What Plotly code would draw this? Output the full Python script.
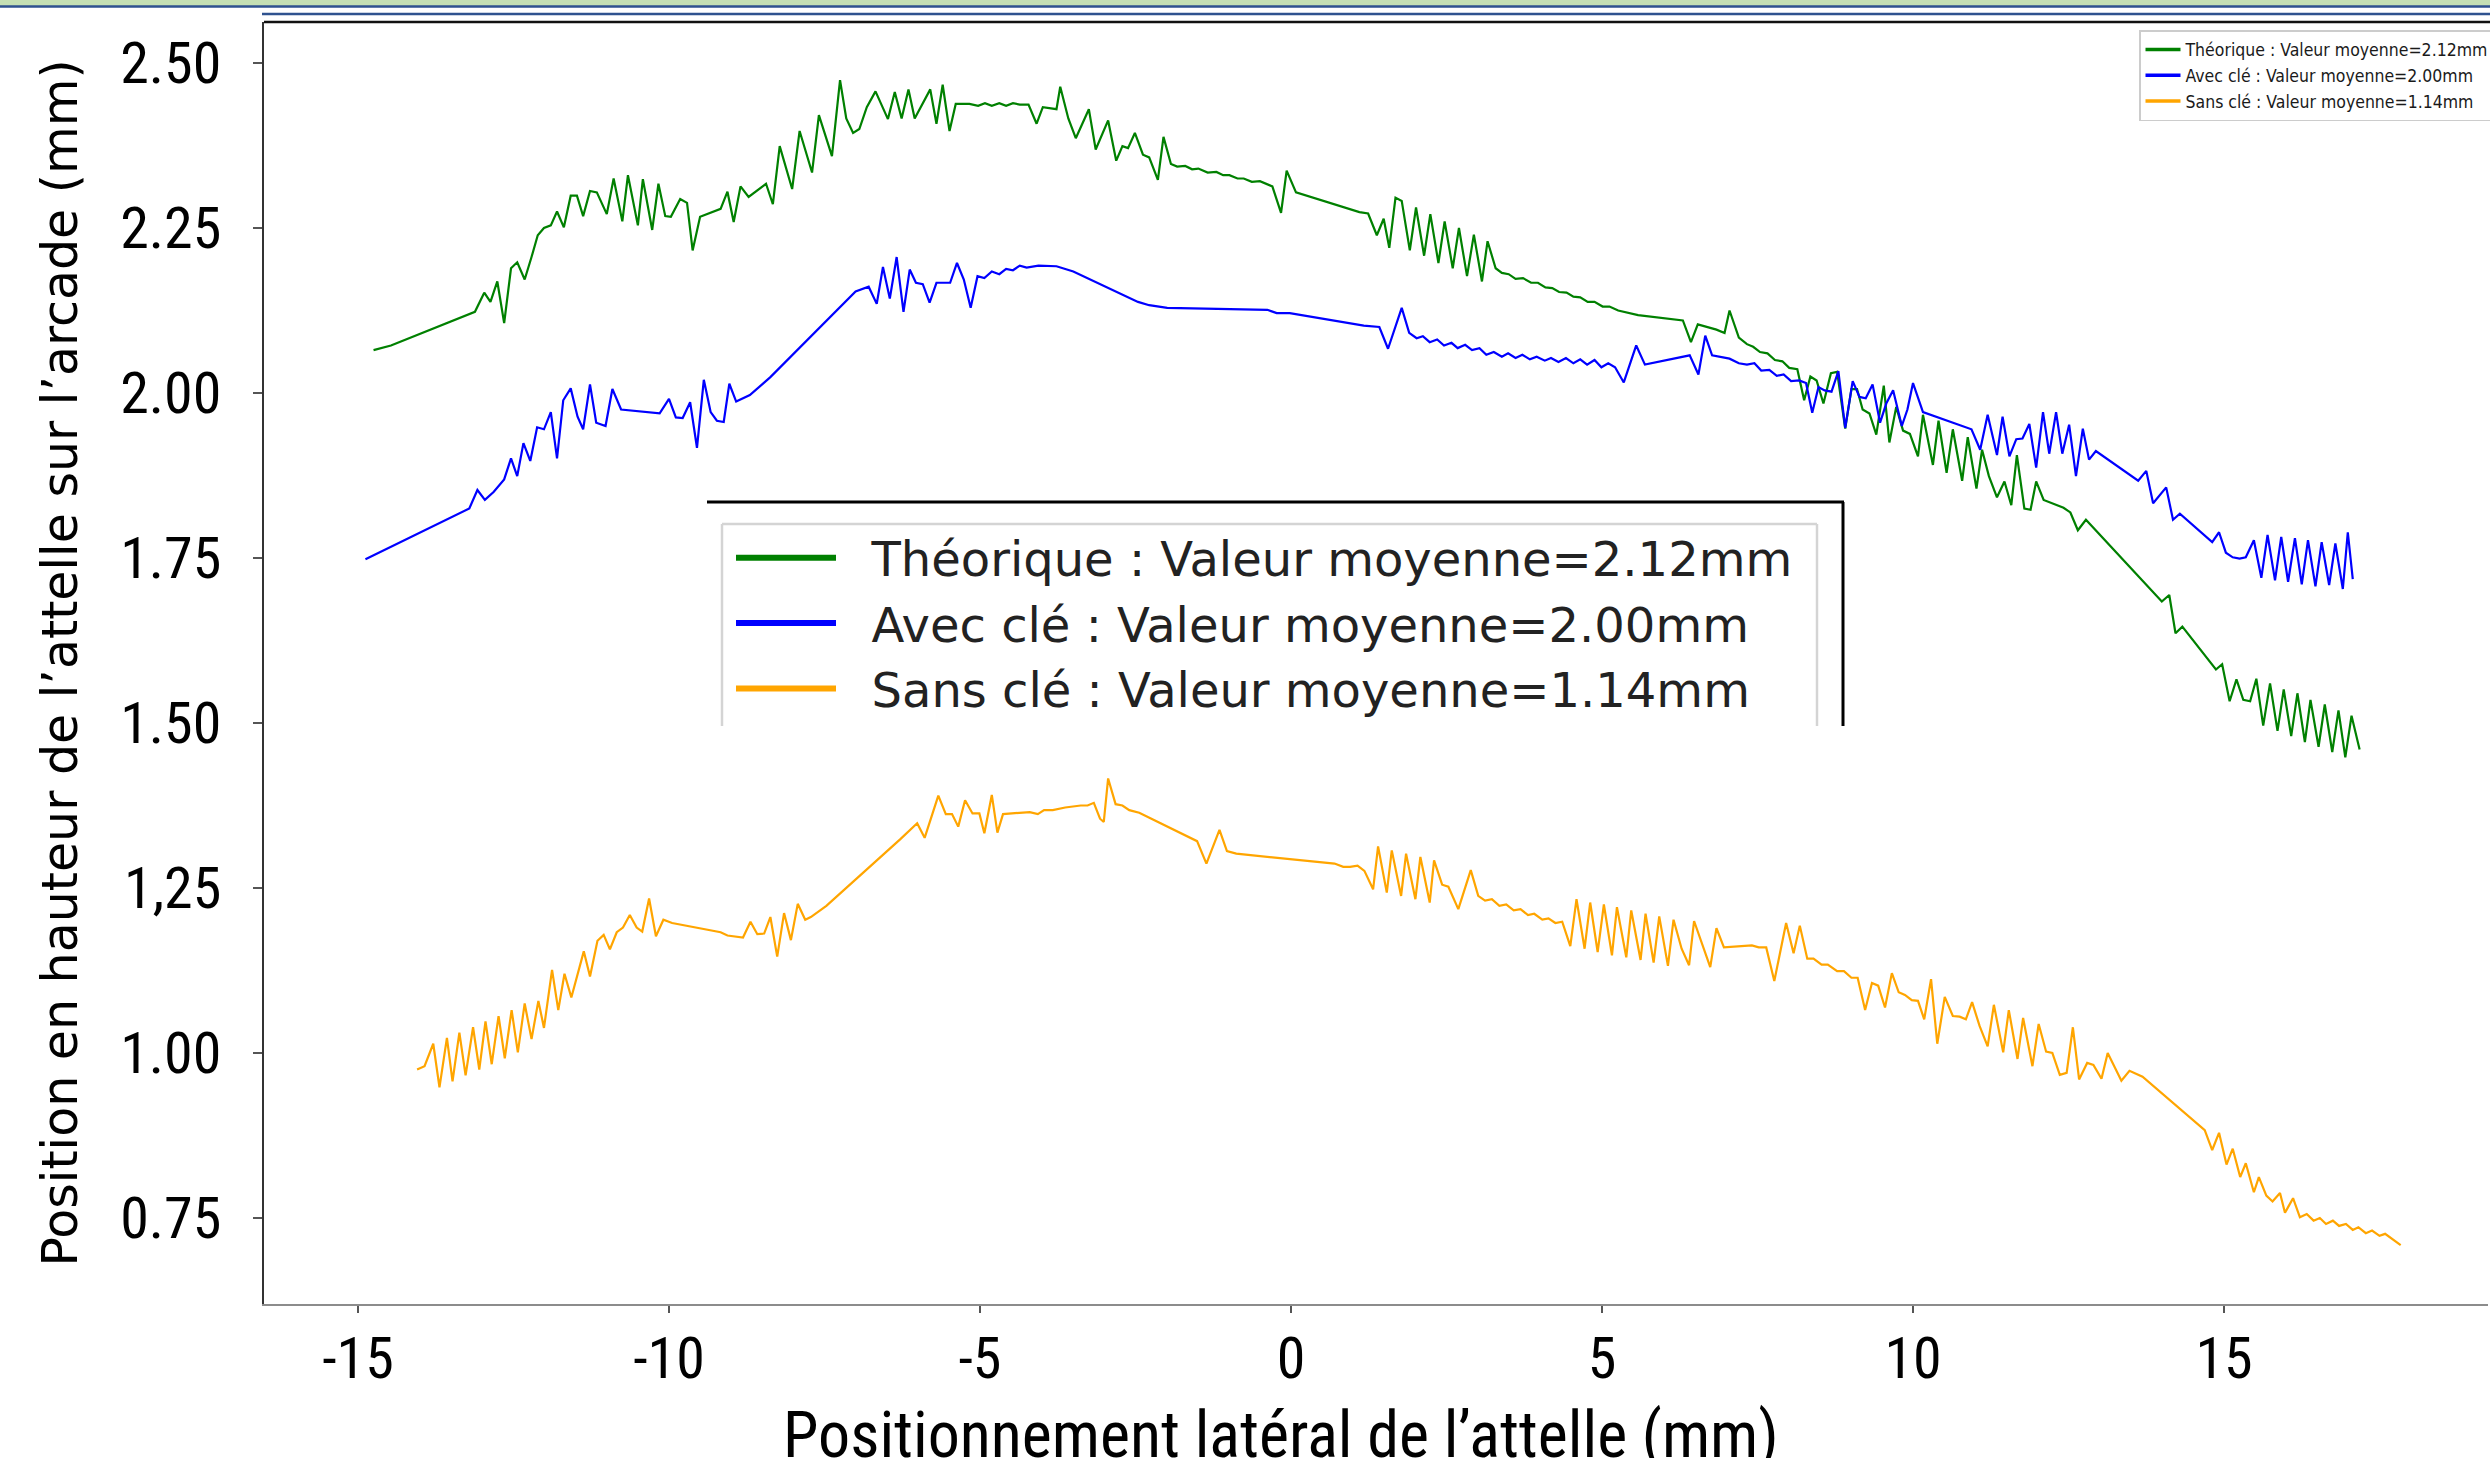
import plotly.graph_objects as go

# ---------------- data ----------------
x_theorique = [-14.75, -14.47, -13.12, -12.97, -12.87, -12.76, -12.65, -12.54, -12.44, -12.32, -12.21, -12.11,
               -12.01, -11.90, -11.80, -11.69, -11.58, -11.48, -11.38, -11.27, -11.16, -11.00, -10.89, -10.75,
               -10.66, -10.50, -10.42, -10.27, -10.17, -10.06, -9.97, -9.82, -9.71, -9.62, -9.50, -9.17, -9.06,
               -8.96, -8.85, -8.72, -8.44, -8.33, -8.22, -8.02, -7.90, -7.70, -7.59, -7.38, -7.25, -7.15, -7.04,
               -6.94, -6.82, -6.68, -6.48, -6.37, -6.26, -6.15, -6.05, -5.80, -5.70, -5.60, -5.49, -5.39, -5.17,
               -5.03, -4.92, -4.81, -4.69, -4.58, -4.47, -4.36, -4.22, -4.09, -3.99, -3.77, -3.71, -3.58, -3.46,
               -3.25, -3.14, -2.94, -2.81, -2.71, -2.62, -2.51, -2.38, -2.28, -2.14, -2.05, -1.93, -1.83, -1.70,
               -1.59, -1.49, -1.34, -1.20, -1.09, -0.99, -0.86, -0.76, -0.63, -0.50, -0.30, -0.16, -0.07, 0.08,
               1.10, 1.24, 1.38, 1.49, 1.58, 1.68, 1.78, 1.91, 2.01, 2.14, 2.24, 2.37, 2.47, 2.60, 2.70, 2.83,
               2.94, 3.07, 3.16, 3.29, 3.39, 3.50, 3.61, 3.73, 3.86, 3.97, 4.09, 4.20, 4.31, 4.43, 4.54, 4.65,
               4.77, 4.88, 5.01, 5.12, 5.26, 5.58, 6.30, 6.43, 6.54, 6.84, 6.97, 7.05, 7.20, 7.33, 7.43, 7.54,
               7.66, 7.78, 7.90, 8.01, 8.14, 8.25, 8.35, 8.45, 8.56, 8.68, 8.78, 8.91, 9.01, 9.10, 9.19, 9.30,
               9.41, 9.53, 9.62, 9.73, 9.84, 9.95, 10.08, 10.16, 10.32, 10.41, 10.54, 10.64, 10.79, 10.88, 11.02,
               11.11, 11.22, 11.35, 11.47, 11.58, 11.67, 11.79, 11.89, 11.98, 12.10, 12.42, 12.53, 12.65, 12.78,
               14.00, 14.12, 14.22, 14.33, 14.87, 14.97, 15.09, 15.20, 15.31, 15.42, 15.52, 15.63, 15.74, 15.86,
               15.96, 16.08, 16.18, 16.30, 16.39, 16.52, 16.62, 16.74, 16.84, 16.95, 17.05, 17.18]
y_theorique = [2.065, 2.072, 2.123, 2.152, 2.138, 2.169, 2.106, 2.189, 2.198, 2.172, 2.206, 2.239,
               2.250, 2.254, 2.275, 2.251, 2.299, 2.299, 2.268, 2.306, 2.304, 2.271, 2.325, 2.260,
               2.330, 2.254, 2.324, 2.247, 2.317, 2.268, 2.267, 2.294, 2.288, 2.216, 2.267, 2.279, 2.305,
               2.259, 2.313, 2.297, 2.317, 2.286, 2.374, 2.309, 2.397, 2.334, 2.421, 2.359, 2.474, 2.416, 2.394,
               2.400, 2.433, 2.457, 2.415, 2.456, 2.416, 2.460, 2.416, 2.460, 2.408, 2.467, 2.397, 2.438, 2.438,
               2.435, 2.439, 2.435, 2.439, 2.435, 2.439, 2.437, 2.437, 2.408, 2.433, 2.430, 2.464, 2.416, 2.386,
               2.430, 2.369, 2.413, 2.352, 2.374, 2.371, 2.394, 2.361, 2.357, 2.323, 2.388, 2.347, 2.343, 2.344,
               2.339, 2.340, 2.334, 2.335, 2.330, 2.330, 2.325, 2.325, 2.320, 2.321, 2.313, 2.273, 2.337, 2.304,
               2.274, 2.272, 2.239, 2.264, 2.220, 2.296, 2.291, 2.216, 2.281, 2.208, 2.271, 2.197, 2.260, 2.189,
               2.250, 2.177, 2.240, 2.169, 2.230, 2.189, 2.182, 2.180, 2.173, 2.174, 2.167, 2.167, 2.160, 2.159,
               2.153, 2.152, 2.146, 2.145, 2.138, 2.138, 2.131, 2.131, 2.125, 2.118, 2.110, 2.077, 2.104, 2.096,
               2.091, 2.125, 2.084, 2.074, 2.070, 2.062, 2.060, 2.050, 2.048, 2.038, 2.036, 1.989, 2.025, 2.019,
               1.984, 2.030, 2.032, 1.946, 2.006, 2.006, 1.975, 1.969, 1.937, 2.011, 1.925, 1.979, 1.943, 1.938,
               1.904, 1.967, 1.891, 1.958, 1.879, 1.945, 1.867, 1.933, 1.855, 1.914, 1.874, 1.842, 1.866, 1.830,
               1.906, 1.825, 1.823, 1.866, 1.838, 1.826, 1.819, 1.792, 1.808, 1.684, 1.694, 1.636, 1.646, 1.581,
               1.589, 1.533, 1.566, 1.535, 1.533, 1.567, 1.496, 1.560, 1.488, 1.551, 1.480, 1.545, 1.471, 1.535,
               1.464, 1.528, 1.456, 1.519, 1.448, 1.511, 1.460]

x_avec = [-14.88, -13.21, -13.08, -12.96, -12.82, -12.65, -12.54, -12.44, -12.34, -12.23, -12.12, -12.01,
          -11.90, -11.80, -11.70, -11.58, -11.47, -11.38, -11.27, -11.17, -11.02, -10.91, -10.77, -10.15,
          -10.00, -9.89, -9.78, -9.66, -9.55, -9.44, -9.33, -9.23, -9.12, -9.03, -8.92, -8.70, -8.37, -7.18,
          -7.00, -6.79, -6.66, -6.56, -6.45, -6.34, -6.23, -6.13, -6.03, -5.92, -5.81, -5.70, -5.48, -5.37,
          -5.26, -5.15, -5.04, -4.93, -4.81, -4.69, -4.58, -4.47, -4.36, -4.25, -4.06, -3.77, -3.50, -2.46,
          -2.28, -1.99, -0.38, -0.23, -0.02, 1.17, 1.42, 1.56, 1.78, 1.90, 2.02, 2.12, 2.23, 2.35, 2.46,
          2.58, 2.68, 2.80, 2.91, 3.03, 3.14, 3.26, 3.39, 3.49, 3.61, 3.72, 3.84, 3.95, 4.08, 4.18, 4.30,
          4.42, 4.54, 4.65, 4.76, 4.88, 4.99, 5.10, 5.21, 5.35, 5.55, 5.69, 6.41, 6.55, 6.66, 6.77, 7.05,
          7.20, 7.33, 7.45, 7.56, 7.69, 7.81, 7.92, 8.04, 8.17, 8.28, 8.38, 8.48, 8.58, 8.69, 8.80, 8.91,
          9.03, 9.14, 9.24, 9.35, 9.47, 9.57, 9.68, 9.82, 9.91, 10.00, 10.16, 10.94, 11.08, 11.20, 11.35,
          11.44, 11.55, 11.66, 11.76, 11.87, 11.98, 12.09, 12.19, 12.30, 12.40, 12.51, 12.62, 12.73, 12.83,
          12.94, 13.62, 13.75, 13.86, 14.07, 14.18, 14.29, 14.81, 14.92, 15.03, 15.14, 15.25, 15.35, 15.48,
          15.60, 15.70, 15.82, 15.92, 16.03, 16.14, 16.25, 16.35, 16.47, 16.57, 16.69, 16.79, 16.91, 16.99,
          17.07]
y_avec = [1.748, 1.825, 1.853, 1.838, 1.850, 1.869, 1.901, 1.874, 1.924, 1.897, 1.948, 1.945,
          1.971, 1.901, 1.989, 2.007, 1.964, 1.945, 2.013, 1.955, 1.950, 2.006, 1.975, 1.969,
          1.991, 1.963, 1.962, 1.986, 1.917, 2.020, 1.971, 1.958, 1.956, 2.014, 1.987, 1.997, 2.024, 2.138,
          2.154, 2.161, 2.135, 2.191, 2.143, 2.206, 2.123, 2.187, 2.167, 2.165, 2.137, 2.167, 2.167, 2.197,
          2.172, 2.129, 2.177, 2.174, 2.184, 2.180, 2.188, 2.186, 2.193, 2.190, 2.193, 2.192, 2.184, 2.138,
          2.133, 2.129, 2.126, 2.121, 2.121, 2.102, 2.100, 2.067, 2.129, 2.091, 2.083, 2.086, 2.077, 2.081, 2.072,
          2.076, 2.068, 2.073, 2.065, 2.068, 2.058, 2.062, 2.055, 2.060, 2.053, 2.058, 2.051, 2.055, 2.049, 2.053, 2.047,
          2.053, 2.045, 2.051, 2.043, 2.050, 2.039, 2.045, 2.039, 2.016, 2.072, 2.043, 2.057, 2.028, 2.087, 2.057, 2.052,
          2.045, 2.043, 2.045, 2.034, 2.035, 2.026, 2.028, 2.018, 2.019, 2.015, 1.970, 2.009, 2.004, 2.002, 2.033, 1.947,
          2.018, 1.994, 1.992, 2.013, 1.955, 1.984, 2.004, 1.950, 1.975, 2.015, 1.971, 1.945, 1.914, 1.967, 1.906,
          1.964, 1.904, 1.930, 1.931, 1.953, 1.887, 1.971, 1.908, 1.971, 1.908, 1.952, 1.874, 1.946, 1.899,
          1.912, 1.867, 1.882, 1.833, 1.857, 1.808, 1.817, 1.774, 1.789, 1.758, 1.751, 1.749, 1.751, 1.777,
          1.720, 1.785, 1.716, 1.782, 1.714, 1.780, 1.710, 1.777, 1.707, 1.774, 1.709, 1.772, 1.703, 1.789,
          1.718]

x_sans = [-14.05, -13.93, -13.79, -13.69, -13.57, -13.48, -13.37, -13.27, -13.15, -13.05, -12.95, -12.85,
          -12.74, -12.64, -12.53, -12.43, -12.32, -12.21, -12.10, -12.01, -11.88, -11.78, -11.68, -11.57,
          -11.37, -11.27, -11.15, -11.05, -10.95, -10.84, -10.74, -10.63, -10.52, -10.43, -10.32, -10.21,
          -10.09, -9.95, -9.17, -9.06, -8.81, -8.69, -8.58, -8.47, -8.37, -8.26, -8.15, -8.04, -7.93, -7.81,
          -7.72, -7.47, -6.28, -6.01, -5.89, -5.67, -5.55, -5.45, -5.35, -5.24, -5.12, -5.01, -4.93, -4.81,
          -4.72, -4.63, -4.20, -4.07, -3.97, -3.83, -3.63, -3.38, -3.27, -3.17, -3.07, -3.01, -2.94, -2.82,
          -2.71, -2.60, -2.44, -1.51, -1.36, -1.28, -1.15, -1.03, -0.88, 0.70, 0.84, 0.95, 1.07, 1.18, 1.32,
          1.40, 1.54, 1.62, 1.77, 1.85, 2.00, 2.08, 2.23, 2.30, 2.43, 2.53, 2.69, 2.89, 3.01, 3.12, 3.23,
          3.35, 3.46, 3.58, 3.69, 3.81, 3.91, 4.04, 4.14, 4.25, 4.36, 4.49, 4.59, 4.72, 4.81, 4.93, 5.03,
          5.16, 5.24, 5.39, 5.47, 5.62, 5.70, 5.83, 5.92, 6.06, 6.15, 6.28, 6.40, 6.48, 6.62, 6.74, 6.84,
          6.96, 7.41, 7.52, 7.64, 7.77, 7.96, 8.08, 8.18, 8.30, 8.40, 8.53, 8.63, 8.78, 8.89, 9.01, 9.11,
          9.23, 9.34, 9.44, 9.55, 9.66, 9.77, 9.87, 9.98, 10.08, 10.18, 10.29, 10.39, 10.51, 10.64, 10.75,
          10.85, 10.95, 11.07, 11.20, 11.30, 11.45, 11.54, 11.68, 11.77, 11.92, 12.02, 12.14, 12.24, 12.36,
          12.47, 12.57, 12.67, 12.80, 12.90, 13.03, 13.13, 13.24, 13.35, 13.48, 13.69, 14.69, 14.81, 14.92,
          15.04, 15.14, 15.26, 15.35, 15.48, 15.56, 15.68, 15.78, 15.90, 15.98, 16.11, 16.22, 16.33, 16.44,
          16.54, 16.64, 16.75, 16.85, 16.96, 17.07, 17.16, 17.28, 17.38, 17.50, 17.59, 17.84]
y_sans = [0.975, 0.980, 1.014, 0.948, 1.023, 0.957, 1.031, 0.966, 1.039, 0.975, 1.048, 0.983,
          1.056, 0.992, 1.065, 1.001, 1.075, 1.021, 1.079, 1.038, 1.126, 1.065, 1.120, 1.084,
          1.154, 1.116, 1.170, 1.179, 1.157, 1.183, 1.190, 1.209, 1.190, 1.184, 1.234, 1.177,
          1.202, 1.197, 1.183, 1.178, 1.175, 1.199, 1.180, 1.181, 1.206, 1.146, 1.212, 1.171, 1.226, 1.202,
          1.206, 1.223, 1.324, 1.348, 1.326, 1.390, 1.362, 1.362, 1.343, 1.383, 1.363, 1.363, 1.333, 1.391,
          1.334, 1.362, 1.365, 1.362, 1.368, 1.368, 1.372, 1.375, 1.375, 1.379, 1.355, 1.350, 1.416, 1.377,
          1.375, 1.368, 1.364, 1.321, 1.287, 1.307, 1.338, 1.306, 1.302, 1.287, 1.282, 1.282, 1.284, 1.276, 1.248,
          1.313, 1.243, 1.307, 1.238, 1.302, 1.233, 1.297, 1.228, 1.292, 1.255, 1.252, 1.218, 1.277, 1.238, 1.231, 1.233,
          1.223, 1.225, 1.216, 1.218, 1.209, 1.211, 1.202, 1.204, 1.197, 1.199, 1.162, 1.233, 1.158, 1.228, 1.153, 1.225,
          1.148, 1.221, 1.145, 1.216, 1.141, 1.211, 1.137, 1.207, 1.132, 1.202, 1.158, 1.133, 1.200, 1.162, 1.130, 1.189,
          1.160, 1.163, 1.160, 1.160, 1.109, 1.197, 1.151, 1.193, 1.143, 1.143, 1.134, 1.134, 1.124, 1.124, 1.114, 1.114,
          1.065, 1.106, 1.102, 1.069, 1.121, 1.092, 1.088, 1.080, 1.079, 1.051, 1.112, 1.014, 1.085, 1.056, 1.055,
          1.051, 1.077, 1.041, 1.010, 1.073, 1.001, 1.065, 0.991, 1.053, 0.980, 1.044, 1.002, 1.000, 0.967,
          0.970, 1.039, 0.960, 0.985, 0.982, 0.961, 1.000, 0.978, 0.958, 0.973, 0.964, 0.883, 0.853, 0.879,
          0.831, 0.855, 0.812, 0.833, 0.789, 0.812, 0.784, 0.775, 0.788, 0.758, 0.780, 0.751, 0.756, 0.746,
          0.750, 0.741, 0.746, 0.738, 0.741, 0.732, 0.736, 0.727, 0.731, 0.723, 0.726, 0.709]

series_names = ["Théorique : Valeur moyenne=2.12mm",
                "Avec clé : Valeur moyenne=2.00mm",
                "Sans clé : Valeur moyenne=1.14mm"]
series_colors = ["#008000", "#0000ff", "#ffa500"]

x_tickvals = [-15, -10, -5, 0, 5, 10, 15]
x_ticktext = ["-15", "-10", "-5", "0", "5", "10", "15"]
y_tickvals = [0.75, 1.00, 1.25, 1.50, 1.75, 2.00, 2.25, 2.50]
y_ticktext = ["0.75", "1.00", "1,25", "1.50", "1.75", "2.00", "2.25", "2.50"]

x_title = "Positionnement latéral de l’attelle (mm)"
y_title = "Position en hauteur de l’attelle sur l’arcade (mm)"

# ---------------- figure ----------------
W, H = 2490, 1458
L, R, T, B = 264, 2488, 22, 1304


def px(xp):
    return (xp - L) / (R - L)


def py(yp):
    return (B - yp) / (B - T)


NARROW = "Liberation Sans Narrow, Arial Narrow, Roboto Condensed, sans-serif"
NB = "\u00a0\u00a0"

fig = go.Figure()

for xs, ys, c in zip([x_theorique, x_avec, x_sans], [y_theorique, y_avec, y_sans], series_colors):
    fig.add_trace(go.Scatter(x=xs, y=ys, mode="lines", line=dict(color=c, width=2.2),
                             showlegend=False, hoverinfo="skip"))

# legend entries (small legend top-right, big legend in the middle)
for n, c in zip(series_names, series_colors):
    fig.add_trace(go.Scatter(x=[None], y=[None], mode="lines", name=n,
                             line=dict(color=c, width=3.5), legend="legend"))
for n, c in zip(series_names, series_colors):
    fig.add_trace(go.Scatter(x=[None], y=[None], mode="lines", name=NB + n,
                             line=dict(color=c, width=6), legend="legend2"))

shapes = []
# top decoration bands
shapes.append(dict(type="rect", xref="paper", yref="paper", x0=px(0), x1=px(W), y0=py(6), y1=py(0),
                   fillcolor="#c5e0b4", line=dict(width=0), layer="above"))
shapes.append(dict(type="line", xref="paper", yref="paper", x0=px(0), x1=px(W), y0=py(6.5), y1=py(6.5),
                   line=dict(color="#2f528f", width=2.5), layer="above"))
shapes.append(dict(type="line", xref="paper", yref="paper", x0=px(262), x1=px(W), y0=py(14), y1=py(14),
                   line=dict(color="#2f528f", width=2.5), layer="above"))
shapes.append(dict(type="line", xref="paper", yref="paper", x0=0, x1=px(W), y0=1, y1=1,
                   line=dict(color="#111111", width=2.5), layer="above"))
# big pasted legend panel
shapes.append(dict(type="rect", xref="paper", yref="paper", x0=px(707), x1=px(1843), y0=py(726), y1=py(502),
                   fillcolor="white", line=dict(width=0), layer="above"))
shapes.append(dict(type="line", xref="paper", yref="paper", x0=px(707), x1=px(1844), y0=py(502), y1=py(502),
                   line=dict(color="black", width=3), layer="above"))
shapes.append(dict(type="line", xref="paper", yref="paper", x0=px(1843), x1=px(1843), y0=py(502), y1=py(726),
                   line=dict(color="black", width=3), layer="above"))
for (xa, ya, xb, yb) in [(722, 726, 722, 524), (722, 524, 1817, 524), (1817, 524, 1817, 726)]:
    shapes.append(dict(type="line", xref="paper", yref="paper", x0=px(xa), x1=px(xb), y0=py(ya), y1=py(yb),
                       line=dict(color="#d4d4d4", width=2.5), layer="above"))

annotations = [dict(text=x_title, xref="paper", yref="paper", x=px(1281), y=py(1396),
                    xanchor="center", yanchor="top", showarrow=False,
                    font=dict(family=NARROW, size=64, color="black"))]

fig.update_layout(
    width=W, height=H,
    margin=dict(l=L, r=W - R, t=T, b=H - B, autoexpand=False),
    paper_bgcolor="white", plot_bgcolor="white",
    shapes=shapes, annotations=annotations,
    xaxis=dict(range=[-16.511, 19.244], tickvals=x_tickvals, ticktext=x_ticktext,
               showgrid=False, zeroline=False, showline=True, linecolor="#8c8c8c", linewidth=2,
               ticks="outside", ticklen=7, tickcolor="#555555", tickwidth=1.5,
               tickfont=dict(family=NARROW, size=58, color="black"), ticklabelstandoff=-5),
    yaxis=dict(range=[0.6197, 2.5621], tickvals=y_tickvals, ticktext=y_ticktext,
               showgrid=False, zeroline=False, showline=True, linecolor="#333333", linewidth=2,
               ticks="outside", ticklen=9, tickcolor="#555555", tickwidth=1.5,
               tickfont=dict(family=NARROW, size=58, color="black"), ticklabelstandoff=20,
               title=dict(text=y_title, font=dict(family="DejaVu Sans, Verdana, sans-serif", size=49, color="black"),
                          standoff=27)),
    legend=dict(x=px(2139), y=py(30), xanchor="left", yanchor="top",
                bgcolor="white", bordercolor="#cccccc", borderwidth=1.5,
                font=dict(family="DejaVu Sans Condensed, DejaVu Sans, sans-serif", size=17.5, color="#1a1a1a"),
                itemwidth=35, tracegroupgap=0),
    legend2=dict(x=px(731), y=py(520), xanchor="left", yanchor="top",
                 bgcolor="rgba(0,0,0,0)", borderwidth=0,
                 font=dict(family="DejaVu Sans, Verdana, sans-serif", size=48, color="#222222"),
                 itemwidth=100, tracegroupgap=0),
)

fig.write_html("out.html",
               config={"displayModeBar": False},
               post_script="document.body.style.margin='0';document.body.style.overflow='hidden';")
